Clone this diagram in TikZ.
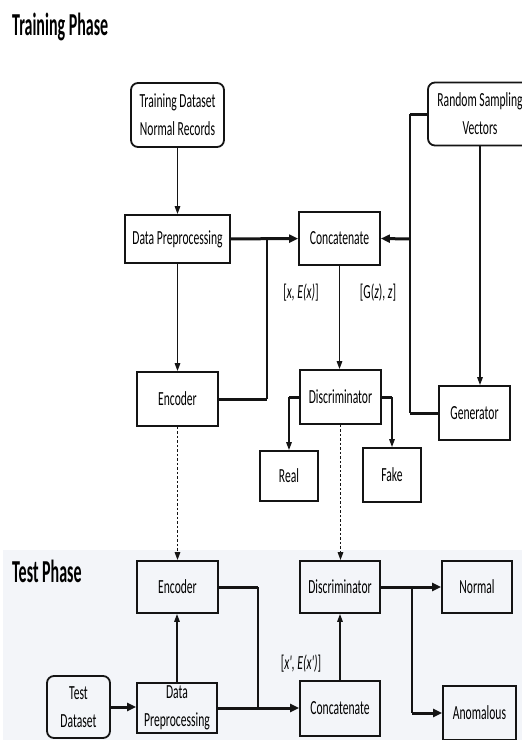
\documentclass[tikz,border=0pt]{standalone}
\usepackage{fontspec}
\setmainfont{Carlito}
\newfontfamily\boxfont{Carlito}[FakeStretch=0.58]
\newfontfamily\phasefont{Carlito}[FakeStretch=0.5]
\usepackage{tikz}
\usetikzlibrary{arrows.meta,positioning}
\definecolor{testbg}{RGB}{243,245,249}
\definecolor{edge}{RGB}{20,20,20}

\begin{document}
\begin{tikzpicture}[x=1pt,y=-1pt,
  box/.style={draw=edge,line width=1.8pt,align=center,inner sep=0pt,font=\boxfont\fontsize{20}{28}\selectfont},
  rbox/.style={box,rounded corners=7pt},
  sz/.style 2 args={minimum width=#1,minimum height=#2},
  vln/.style={line width=1.5pt,edge},
  hln/.style={line width=3pt,edge},
  varr/.style={vln,-{Triangle[length=8pt,width=5.5pt]}},
  harr/.style={hln,-{Triangle[length=9pt,width=8pt]}},
  dots/.style={varr,dash pattern=on 2.5pt off 2pt},
  lab/.style={font=\boxfont\fontsize{20}{22}\selectfont,inner sep=0pt},
  phase/.style={font=\phasefont\bfseries\fontsize{32}{34}\selectfont,anchor=base west,inner sep=0pt}]
  \useasboundingbox (0,0) rectangle (522,740);
  \fill[testbg] (3,550) rectangle (522,740);
  % training phase
  \node[phase] (ttrain) at (12,35) {Training Phase};
  \node[rbox,sz={93pt}{64pt}] (tds) at (177.5,115) {Training Dataset\\Normal Records};
  \node[rbox,sz={104pt}{63pt}] (rsv) at (480,114) {Random Sampling\\Vectors};
  \node[box,sz={105pt}{48pt}] (dp) at (177.5,239) {Data Preprocessing};
  \node[box,sz={81pt}{53pt}] (cat) at (339.5,238.5) {Concatenate};
  \node[box,sz={81pt}{54pt}] (enc) at (177.5,399) {Encoder};
  \node[box,sz={81pt}{54pt}] (disc) at (340.5,397) {Discriminator};
  \node[box,sz={71pt}{54pt}] (gen) at (474.5,413) {Generator};
  \node[box,sz={58pt}{50pt}] (real) at (289,476) {Real};
  \node[box,sz={58pt}{54pt}] (fake) at (392,475) {Fake};
  \node[lab] (lxe) at (301,293) {[\textit{x, E(x)}]};
  \node[lab] (lgz) at (378,293) {[G(\textit{z}), \textit{z}]};
  \coordinate (je) at (267,239);
  \coordinate (jg) at (410,239);
  \draw[varr] (tds) -- (dp);
  \draw[harr] (dp) -- (cat);
  \draw[varr] (dp) -- (enc);
  \draw[hln] (enc.east) -- (enc.east -| je);
  \draw[vln] (enc.east -| je) -- (je);
  \draw[varr] (cat.south) -- (cat.south |- disc.north);
  \draw[varr] (rsv.south) -- (rsv.south |- gen.north);
  \draw[hln] (rsv.west) -- (rsv.west -| jg);
  \draw[hln] (gen.west) -- (gen.west -| jg);
  \draw[vln] (rsv.west -| jg) -- (gen.west -| jg);
  \draw[harr] (jg) -- (cat.east);
  \draw[hln] (disc.west) -- (real.north |- disc.west);
  \draw[varr] (real.north |- disc.west) -- (real.north);
  \draw[hln] (disc.east) -- (fake.north |- disc.east);
  \draw[varr] (fake.north |- disc.east) -- (fake.north);
  % test phase
  \node[phase] (ttest) at (12,582) {Test Phase};
  \node[box,sz={81pt}{52pt}] (tenc) at (177.5,587) {Encoder};
  \node[box,sz={80pt}{52pt}] (tdisc) at (340,587) {Discriminator};
  \node[box,sz={70pt}{52pt}] (norm) at (477,587) {Normal};
  \node[rbox,sz={63pt}{62pt}] (tds2) at (78.5,707) {Test\\Dataset};
  \node[box,sz={80pt}{50pt}] (tdp) at (177,708) {Data\\Preprocessing};
  \node[box,sz={80pt}{55pt}] (tcat) at (340,708.5) {Concatenate};
  \node[box,sz={73pt}{54pt}] (anom) at (479.5,713) {Anomalous};
  \node[lab] (lxt) at (301,664) {[\textit{x', E(x')}]};
  \coordinate (tje) at (258,708);
  \coordinate (tjn) at (412,587);
  \draw[dots] (enc) -- (tenc);
  \draw[dots] (disc.south) -- (disc.south |- tdisc.north);
  \draw[harr] (tds2.east) -- (tds2.east -| tdp.west);
  \draw[harr] (tdp.east) -- (tdp.east -| tcat.west);
  \draw[varr] (tdp.north) -- (tdp.north |- tenc.south);
  \draw[hln] (tenc.east) -- (tenc.east -| tje);
  \draw[vln] (tenc.east -| tje) -- (tje);
  \draw[varr] (tcat) -- (tdisc);
  \draw[harr] (tdisc) -- (norm);
  \draw[vln] (tjn) -- (tjn |- anom.west);
  \draw[harr] (tjn |- anom.west) -- (anom.west);
\end{tikzpicture}
\end{document}
